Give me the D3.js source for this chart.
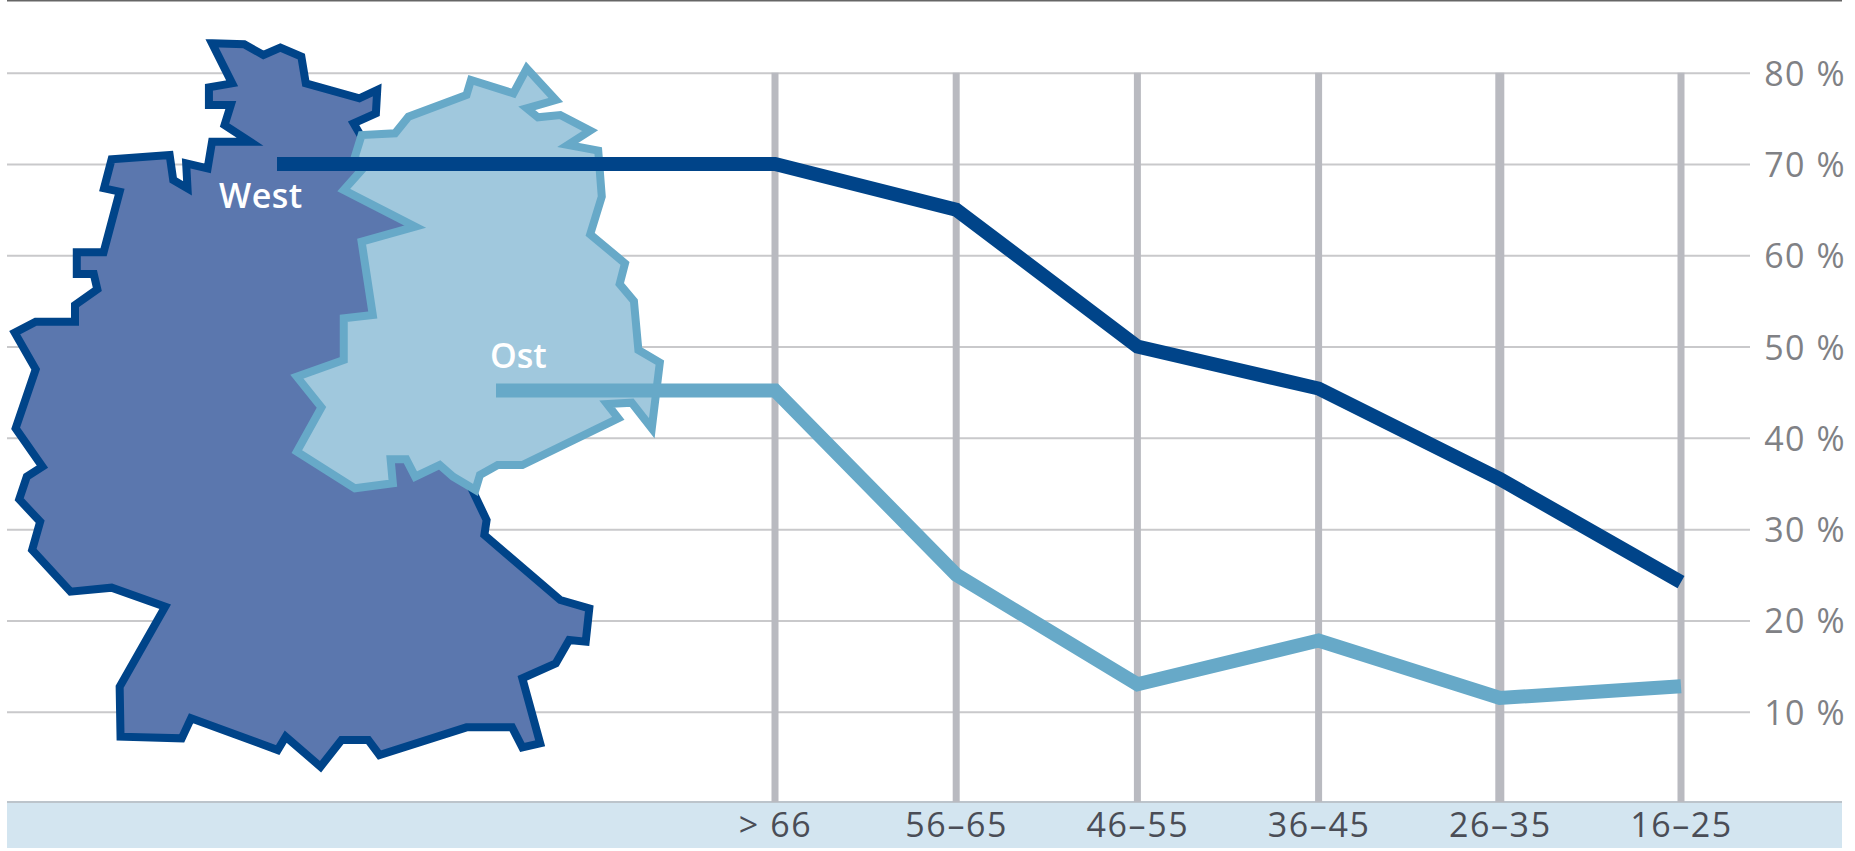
<!DOCTYPE html>
<html><head><meta charset="utf-8">
<style>html,body{margin:0;padding:0;background:#fff}svg{display:block}text{font-family:"Open Sans",sans-serif}</style>
<script src="https://cdn.jsdelivr.net/npm/d3@7/dist/d3.min.js"></script>
</head><body><svg id="c" width="1855" height="851"></svg>
<script>
const ageGroups = ["> 66","56–65","46–55","36–45","26–35","16–25"];
const westValues = [70,65,50,45.4,35.5,24.2];
const ostValues = [45.2,25,13,17.8,11.5,12.8];
const percentTicks = [10,20,30,40,50,60,70,80];
const seriesNames = ["West","Ost"];
// Map silhouettes
const westOutline = [[475,130],[547,133],[590,165],[628,143],[675,170],[685,250],[805,295],[845,270],[842,340],[792,370],[805,400],[850,500],[960,680],[860,800],[900,1000],[800,1100],[780,1222],[900,1300],[960,1370],[1040,1420],[1090,1560],[1085,1605],[1255,1800],[1320,1825],[1312,1925],[1275,1920],[1245,1990],[1170,2035],[1210,2230],[1170,2242],[1147,2182],[1045,2182],[850,2265],[825,2220],[765,2220],[718,2300],[640,2210],[622,2250],[428,2155],[407,2215],[270,2210],[268,2060],[370,1820],[250,1763],[158,1775],[72,1650],[90,1565],[43,1498],[60,1430],[95,1400],[35,1285],[80,1108],[33,998],[80,965],[168,965],[168,915],[218,868],[210,822],[172,822],[172,757],[232,757],[268,575],[233,565],[250,478],[380,465],[388,540],[420,565],[417,490],[465,505],[475,425],[560,425],[503,375],[517,315],[468,315],[468,262],[520,250]];
const ostOutline = [[1180,205],[1245,300],[1180,325],[1205,352],[1255,345],[1322,392],[1272,435],[1340,452],[1348,590],[1322,703],[1400,790],[1388,852],[1420,903],[1430,1050],[1478,1088],[1460,1285],[1415,1208],[1360,1212],[1385,1255],[1170,1395],[1115,1395],[1075,1425],[1065,1470],[1015,1430],[985,1395],[930,1430],[910,1378],[875,1378],[880,1450],[795,1465],[665,1355],[720,1222],[665,1130],[770,1080],[770,955],[835,945],[810,725],[930,680],[770,570],[810,510],[795,470],[810,405],[885,400],[915,350],[1045,285],[1055,240],[1150,280]];

const svg = d3.select("#c");
const x = d3.scalePoint().domain(ageGroups).range([775,1681]);
const y = d3.scaleLinear().domain([0,80]).range([803,72.7]);
const traceX = d3.scaleLinear().domain([0,2.24]).range([0,1]);
const traceY = d3.scaleLinear().domain([0,3]).range([0,1]);
const outline = d3.line().x(d=>traceX(d[0])).y(d=>traceY(d[1])).curve(d3.curveLinearClosed);

// frame and band
svg.append("rect").attr("x",7).attr("y",0).attr("width",1835).attr("height",1.5).attr("fill","#666");
svg.append("rect").attr("x",7).attr("y",802).attr("width",1835).attr("height",46).attr("fill","#d3e5f0");
svg.append("line").attr("x1",7).attr("x2",1842).attr("y1",802).attr("y2",802).attr("stroke","#bcc4cb").attr("stroke-width",2);

// horizontal grid + value labels
const gy = svg.append("g").attr("transform","translate(7,0)")
  .call(d3.axisRight(y).tickValues(percentTicks).tickSize(1743).tickPadding(0).tickFormat(d=>d+" %"));
gy.select(".domain").remove();
gy.selectAll("line").attr("stroke","#c9c9cb").attr("stroke-width",2);
gy.selectAll("text").attr("x",1839).attr("dy",12.5).attr("text-anchor","end").attr("font-size",34).attr("letter-spacing",1.5).attr("fill","#808185").style("font-family",'"Open Sans",sans-serif');

// vertical bars
const barW = {"> 66":7,"56–65":7,"46–55":7,"36–45":7,"26–35":9,"16–25":7};
svg.append("g").selectAll("line").data(ageGroups).join("line")
  .attr("x1",d=>x(d)).attr("x2",d=>x(d)).attr("y1",y(80)).attr("y2",802)
  .attr("stroke","#b9bac0").attr("stroke-width",d=>barW[d]);

// category axis
const gx = svg.append("g").attr("transform","translate(0,803)")
  .call(d3.axisBottom(x).tickSize(0).tickPadding(0));
gx.select(".domain").remove();
gx.selectAll("text").attr("y",34).attr("dy",0).attr("font-size",34).attr("letter-spacing",1.6).attr("fill","#4a4d56").style("font-family",'"Open Sans",sans-serif');

// map
svg.append("path").attr("d",outline(westOutline)).attr("fill","#5b77ae").attr("stroke","#004489").attr("stroke-width",8).attr("stroke-linejoin","miter");
svg.append("path").attr("d",outline(ostOutline)).attr("fill","#a0c8dd").attr("stroke","#67a9c8").attr("stroke-width",8).attr("stroke-linejoin","miter");

// series lines
const line = d3.line().x(d=>d[0]).y(d=>y(d[1]));
const westPts = [[277,westValues[0]]].concat(ageGroups.map((a,i)=>[x(a),westValues[i]]));
const ostPts = [[496,ostValues[0]]].concat(ageGroups.map((a,i)=>[x(a),ostValues[i]]));
svg.append("path").attr("d",line(westPts)).attr("fill","none").attr("stroke","#004489").attr("stroke-width",14).attr("stroke-linejoin","miter");
svg.append("path").attr("d",line(ostPts)).attr("fill","none").attr("stroke","#67a9c8").attr("stroke-width",14).attr("stroke-linejoin","miter");

// series names
svg.append("text").attr("x",219).attr("y",208).attr("font-size",34).attr("font-weight",600).attr("letter-spacing",0.5).attr("fill","#fff").text(seriesNames[0]);
svg.append("text").attr("x",490).attr("y",368).attr("font-size",34).attr("font-weight",600).attr("fill","#fff").text(seriesNames[1]);
</script></body></html>
